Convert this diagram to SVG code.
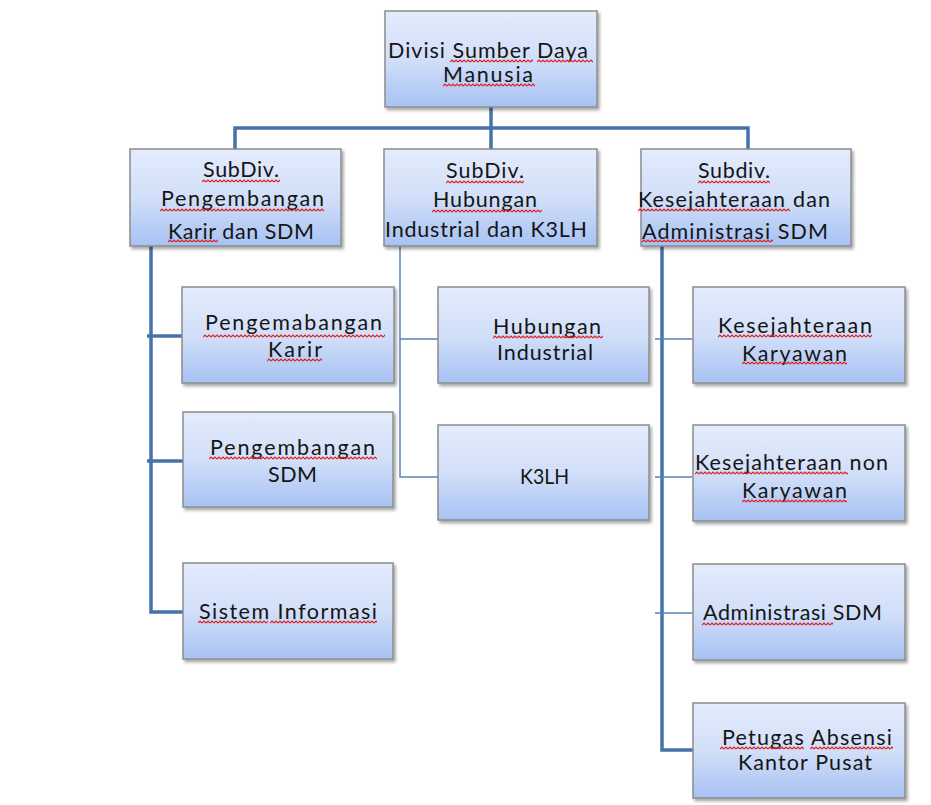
<svg xmlns="http://www.w3.org/2000/svg" width="931" height="805" viewBox="0 0 931 805">
<style>
.box{fill:url(#bg);stroke:#8c8c8c;stroke-width:1.5;filter:url(#sh)}
.t{font-family:Lato,"Open Sans","Liberation Sans",sans-serif;font-size:21.5px;fill:#151515}
.thick{fill:none;stroke:#4671a9;stroke-width:3.5}
.thin{fill:none;stroke:#5a83b8;stroke-width:1.5}
.sq{fill:url(#wave)}
</style>
<defs>
<linearGradient id="bg" x1="0" y1="0" x2="0" y2="1">
<stop offset="0" stop-color="#e4ecfc"/>
<stop offset="0.5" stop-color="#d2dff9"/>
<stop offset="1" stop-color="#a7c2f3"/>
</linearGradient>
<filter id="sh" x="-5%" y="-5%" width="115%" height="120%">
<feDropShadow dx="2" dy="2.5" stdDeviation="1.5" flood-color="#000" flood-opacity="0.35"/>
</filter>
<pattern id="wave" patternUnits="userSpaceOnUse" width="4" height="4">
<path d="M0,3 L2,1 L4,3" fill="none" stroke="#e0201c" stroke-width="1.2"/>
</pattern>
</defs>
<rect width="931" height="805" fill="#ffffff"/>

<g id="connectors">
<path class="thick" d="M491,107 V149 M235,149 V128 H748 V149"/>
<path class="thick" d="M151,246 V612 H183 M147,336 H183 M147,461 H183"/>
<path class="thin" d="M400,246 V477 H438 M400,339 H438"/>
<path class="thick" d="M662,246 V750 H694"/>
<path class="thin" d="M655,339 H692 M655,477 H692 M655,613 H692"/>
</g>

<g id="divisi-sdm">
<rect class="box" x="385" y="11" width="212" height="96"/>
<text class="t" x="388" y="58" textLength="200" lengthAdjust="spacing">Divisi Sumber Daya</text>
<text class="t" x="443" y="82" textLength="90" lengthAdjust="spacing">Manusia</text>
<rect class="sq" transform="translate(450,59)" width="83" height="4"/>
<rect class="sq" transform="translate(537,59)" width="56" height="4"/>
<rect class="sq" transform="translate(443,83)" width="92" height="4"/>
</g>

<g id="subdiv-pengembangan">
<rect class="box" x="130" y="149" width="211" height="97"/>
<text class="t" x="203" y="177" textLength="76" lengthAdjust="spacing">SubDiv.</text>
<text class="t" x="161" y="206" textLength="163" lengthAdjust="spacing">Pengembangan</text>
<text class="t" x="168" y="239" textLength="146" lengthAdjust="spacing">Karir dan SDM</text>
<rect class="sq" transform="translate(202,179)" width="78" height="4"/>
<rect class="sq" transform="translate(160,208)" width="164" height="4"/>
<rect class="sq" transform="translate(168,239)" width="50" height="4"/>
</g>

<g id="subdiv-hubungan">
<rect class="box" x="384" y="149" width="213" height="97"/>
<text class="t" x="446" y="178" textLength="78" lengthAdjust="spacing">SubDiv.</text>
<text class="t" x="433" y="207" textLength="104" lengthAdjust="spacing">Hubungan</text>
<text class="t" x="385" y="237" textLength="202" lengthAdjust="spacing">Industrial dan K3LH</text>
<rect class="sq" transform="translate(446,180)" width="78" height="4"/>
<rect class="sq" transform="translate(432,209)" width="110" height="4"/>
</g>

<g id="subdiv-kesejahteraan">
<rect class="box" x="641" y="149" width="210" height="97"/>
<text class="t" x="698" y="178" textLength="72" lengthAdjust="spacing">Subdiv.</text>
<text class="t" x="638" y="207" textLength="192" lengthAdjust="spacing">Kesejahteraan dan</text>
<text class="t" x="642" y="239" textLength="186" lengthAdjust="spacing">Administrasi SDM</text>
<rect class="sq" transform="translate(698,180)" width="72" height="4"/>
<rect class="sq" transform="translate(638,208)" width="152" height="4"/>
<rect class="sq" transform="translate(642,239)" width="131" height="4"/>
</g>

<g id="pengemabangan-karir">
<rect class="box" x="182" y="287" width="212" height="96"/>
<text class="t" x="205" y="330" textLength="177" lengthAdjust="spacing">Pengemabangan</text>
<text class="t" x="268" y="357" textLength="54" lengthAdjust="spacing">Karir</text>
<rect class="sq" transform="translate(203,334)" width="182" height="4"/>
<rect class="sq" transform="translate(267,358)" width="55" height="4"/>
</g>

<g id="pengembangan-sdm">
<rect class="box" x="183" y="412" width="210" height="95"/>
<text class="t" x="210" y="455" textLength="165" lengthAdjust="spacing">Pengembangan</text>
<text class="t" x="268" y="482" textLength="49" lengthAdjust="spacing">SDM</text>
<rect class="sq" transform="translate(209,456)" width="168" height="4"/>
</g>

<g id="sistem-informasi">
<rect class="box" x="183" y="563" width="210" height="96"/>
<text class="t" x="199" y="619" textLength="178" lengthAdjust="spacing">Sistem Informasi</text>
<rect class="sq" transform="translate(198,620)" width="70" height="4"/>
<rect class="sq" transform="translate(270,620)" width="107" height="4"/>
</g>

<g id="hubungan-industrial">
<rect class="box" x="438" y="287" width="211" height="96"/>
<text class="t" x="493" y="334" textLength="108" lengthAdjust="spacing">Hubungan</text>
<text class="t" x="497" y="360" textLength="96" lengthAdjust="spacing">Industrial</text>
<rect class="sq" transform="translate(493,335)" width="110" height="4"/>
</g>

<g id="k3lh">
<rect class="box" x="438" y="425" width="211" height="95"/>
<text class="t" x="520" y="484" textLength="49" lengthAdjust="spacingAndGlyphs">K3LH</text>
</g>

<g id="kesejahteraan-karyawan">
<rect class="box" x="693" y="287" width="212" height="96"/>
<text class="t" x="718" y="333" textLength="154" lengthAdjust="spacing">Kesejahteraan</text>
<text class="t" x="742" y="361" textLength="105" lengthAdjust="spacing">Karyawan</text>
<rect class="sq" transform="translate(718,334)" width="154" height="4"/>
<rect class="sq" transform="translate(742,361)" width="105" height="4"/>
</g>

<g id="kesejahteraan-non-karyawan">
<rect class="box" x="693" y="425" width="212" height="96"/>
<text class="t" x="695" y="470" textLength="193" lengthAdjust="spacing">Kesejahteraan non</text>
<text class="t" x="742" y="498" textLength="105" lengthAdjust="spacing">Karyawan</text>
<rect class="sq" transform="translate(695,471)" width="153" height="4"/>
<rect class="sq" transform="translate(742,499)" width="105" height="4"/>
</g>

<g id="administrasi-sdm">
<rect class="box" x="693" y="564" width="212" height="96"/>
<text class="t" x="703" y="620" textLength="179" lengthAdjust="spacing">Administrasi SDM</text>
<rect class="sq" transform="translate(702,622)" width="131" height="4"/>
</g>

<g id="petugas-absensi">
<rect class="box" x="693" y="703" width="212" height="95"/>
<text class="t" x="722" y="745" textLength="170" lengthAdjust="spacing">Petugas Absensi</text>
<text class="t" x="738" y="770" textLength="134" lengthAdjust="spacing">Kantor Pusat</text>
<rect class="sq" transform="translate(720,746)" width="84" height="4"/>
<rect class="sq" transform="translate(810,746)" width="83" height="4"/>
</g>
</svg>
